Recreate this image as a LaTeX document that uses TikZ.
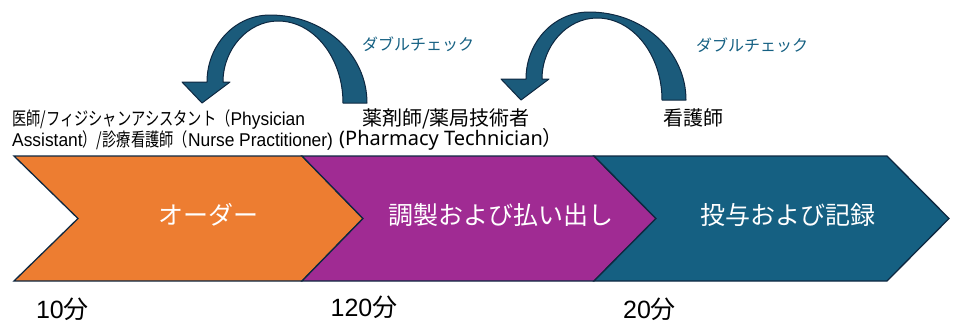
\documentclass[tikz,border=0pt]{standalone}
\usepackage{fontspec}
\setmainfont{Noto Sans CJK JP}
\newfontfamily\jp{Noto Sans CJK JP}
\newfontfamily\jpn[FakeStretch=0.77]{Noto Sans CJK JP}
\newfontfamily\latn[FakeStretch=0.94]{Liberation Sans}
\newfontfamily\lat{Liberation Sans}
\newfontfamily\notolat{Noto Sans}
\definecolor{cOrange}{HTML}{ED7D31}
\definecolor{cPurple}{HTML}{A02B93}
\definecolor{cBlue}{HTML}{156082}
\definecolor{cEdge}{HTML}{0E2841}
\definecolor{cArrow}{HTML}{1B5B7B}
\tikzset{
  chev/.style={draw=cEdge, line width=1.3pt, line join=miter},
  chevtxt/.style={text=white, inner sep=0pt, font=\jp\fontsize{25}{30}\selectfont},
  lab1/.style={inner sep=0pt, text=black, font=\fontsize{18.5}{22}\selectfont},
  lab2/.style={inner sep=0pt, text=black, font=\jp\fontsize{20}{24}\selectfont},
  dctxt/.style={inner sep=0pt, text=cBlue, font=\jp\fontsize{16}{19}\selectfont},
  tm/.style={inner sep=0pt, text=black, font=\fontsize{25}{30}\selectfont},
  arrowshape/.style={fill=cArrow, draw=cEdge, line width=1pt, line join=round},
  dcheck/.pic={
    \path[arrowshape] (367,103) .. controls (367,54) and (324,15) .. (270,15)
      .. controls (235,15) and (207,45) .. (207,82) -- (182,82) -- (202,103) -- (230,82) -- (223,82)
      .. controls (223,49) and (248,21) .. (278,21)
      .. controls (314,21) and (343,58) .. (343,103) -- cycle;
  }
}
\begin{document}
\begin{tikzpicture}[x=1pt,y=-1pt]
\useasboundingbox (0,0) rectangle (956,325);
% chevrons
\path[chev, fill=cOrange] (14,156) -- (302,156) -- (363,218.5) -- (302,281) -- (14,281) -- (78,218.5) -- cycle;
\path[chev, fill=cPurple] (302,156) -- (594,156) -- (656,218.5) -- (594,281) -- (302,281) -- (363,218.5) -- cycle;
\path[chev, fill=cBlue] (594,156) -- (887,156) -- (949,218.5) -- (887,281) -- (594,281) -- (656,218.5) -- cycle;
\node[chevtxt] (order) at (208,215) {オーダー};
\node[chevtxt] (dispense) at (501,215) {調製および払い出し};
\node[chevtxt] (admin) at (788,215) {投与および記録};
% curved arrows
\pic at (0,0) {dcheck};
\pic at (319,-3) {dcheck};
\node[dctxt] (dc1) at (418,44) {ダブルチェック};
\node[dctxt] (dc2) at (752,45) {ダブルチェック};
% role labels
\node[lab1, anchor=base west] (phys1) at (12,125.7) {{\jpn 医師/フィジシャンアシスタント（}{\latn Physician}};
\node[lab1, anchor=base west] (phys2) at (12,146) {{\latn Assistant}{\jpn ）/診療看護師（}{\latn Nurse Practitioner)}};
\node[lab2, anchor=base] (pharm1) at (446,125.5) {薬剤師/薬局技術者};
\node[lab2, anchor=base west] (pharm2) at (339,145.5) {{\notolat (Pharmacy Technician}）};
\node[lab2, anchor=base] (nurse) at (693,125.5) {看護師};
% times
\node[tm, anchor=base] (t1) at (62.5,318) {{\lat 10}{\jp 分}};
\node[tm, anchor=base] (t2) at (364,316) {{\lat 120}{\jp 分}};
\node[tm, anchor=base] (t3) at (649.5,318) {{\lat 20}{\jp 分}};
\end{tikzpicture}
\end{document}
